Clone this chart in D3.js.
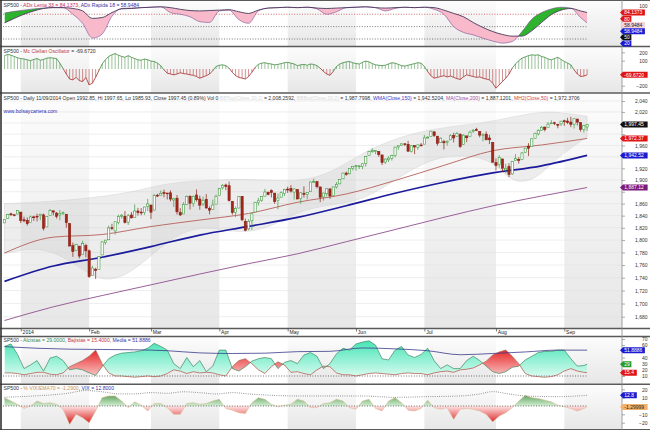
<!DOCTYPE html>
<html><head><meta charset="utf-8">
<script src="https://cdn.jsdelivr.net/npm/d3@7"></script>
<style>body{margin:0;background:#fff;} svg{display:block;font-family:"Liberation Sans",Arial,sans-serif;}</style>
</head><body><svg id="c" width="650" height="430"></svg>
<script>
// ---------------- DATA ----------------
const monthStarts = [5,26,45,66,87,108,129,151,172];
const monthLabels = ["2014","Feb","Mar","Apr","May","Jun","Jul","Aug","Sep"];
const priceTicks = [1680,1700,1720,1740,1760,1780,1800,1820,1840,1860,1880,1900,1920,1940,1960,1980,2000,2020,2040];

const open = [
1828.00,1834.96,1842.97,1841.47,1842.61,1845.86,1833.21,1832.31,1828.71,1837.90,
1839.00,1840.06,1841.26,1821.36,1840.52,1847.99,1844.23,1841.05,1844.71,1842.29,
1826.96,1791.03,1783.00,1790.15,1777.17,1790.88,1782.68,1743.82,1753.38,1752.99,
1776.01,1796.20,1800.45,1820.12,1814.82,1828.46,1839.03,1838.90,1829.24,1841.07,
1836.78,1847.66,1845.79,1844.90,1855.12,1857.68,1849.23,1874.05,1874.18,1878.52,
1877.86,1878.26,1866.15,1869.06,1845.07,1842.81,1858.92,1872.25,1860.09,1874.53,
1867.67,1859.48,1867.09,1852.11,1850.07,1859.16,1873.96,1886.61,1891.43,1890.25,
1863.92,1845.48,1852.64,1872.28,1830.65,1818.18,1831.45,1846.01,1861.73,1865.79,
1872.57,1879.32,1881.97,1877.72,1865.00,1870.78,1877.10,1884.39,1885.30,1879.45,
1883.69,1868.53,1877.39,1875.27,1880.03,1896.75,1897.13,1888.16,1871.19,1876.66,
1884.88,1873.34,1888.19,1893.32,1902.01,1911.77,1910.60,1920.33,1923.87,1923.07,
1923.06,1928.52,1942.41,1948.97,1950.34,1949.37,1943.35,1930.80,1934.84,1937.15,
1942.73,1957.50,1960.45,1962.92,1961.97,1949.27,1959.89,1956.56,1960.79,1962.29,
1973.06,1975.88,1984.22,1976.39,1965.10,1966.67,1965.76,1969.86,1977.36,1976.35,
1979.75,1961.54,1976.93,1975.65,1985.32,1988.07,1984.60,1978.25,1980.03,1973.21,
1965.14,1929.80,1926.62,1936.34,1917.29,1923.03,1910.35,1933.43,1935.73,1935.60,
1947.41,1958.87,1958.36,1972.73,1980.46,1986.82,1992.60,1991.74,1998.59,2000.54,
1997.42,1998.45,2004.07,2003.57,2001.67,1998.00,2007.17,2000.73,1988.41,1992.85];
const high = [
1833.32,1842.84,1844.89,1842.47,1849.44,1845.86,1838.24,1837.16,1840.10,1840.02,
1843.23,1843.15,1843.45,1839.26,1850.84,1847.99,1846.04,1849.31,1846.87,1842.29,
1826.96,1795.98,1793.87,1790.15,1798.77,1793.88,1784.83,1758.73,1755.79,1774.06,
1798.03,1800.22,1823.54,1826.55,1830.25,1841.65,1842.87,1847.50,1842.79,1846.13,
1858.71,1852.91,1852.65,1854.53,1867.92,1857.68,1876.23,1876.53,1881.94,1883.57,
1877.87,1882.35,1868.38,1874.40,1852.44,1862.30,1873.76,1874.14,1873.49,1883.97,
1873.34,1871.87,1875.92,1855.55,1866.63,1875.18,1885.84,1893.17,1893.80,1897.28,
1864.04,1854.95,1872.43,1872.53,1835.07,1834.19,1844.02,1862.31,1869.63,1871.89,
1884.89,1879.75,1884.06,1877.72,1877.01,1880.60,1885.20,1888.59,1891.33,1885.51,
1883.69,1878.83,1889.07,1878.57,1897.13,1902.17,1897.13,1888.16,1878.28,1886.00,
1884.88,1888.80,1896.33,1901.26,1912.28,1914.46,1920.03,1924.03,1925.88,1925.07,
1928.63,1941.74,1949.44,1955.55,1950.86,1949.37,1943.35,1937.30,1941.15,1943.69,
1957.74,1959.87,1963.91,1963.74,1968.17,1960.83,1959.89,1961.47,1964.24,1978.58,
1976.67,1985.59,1984.22,1976.39,1974.15,1969.84,1968.67,1979.85,1982.52,1983.94,
1981.80,1979.91,1976.93,1986.24,1989.23,1991.39,1984.60,1981.52,1984.85,1978.90,
1965.14,1937.35,1942.92,1936.34,1927.91,1928.89,1932.38,1944.90,1939.65,1948.41,
1955.23,1964.04,1971.99,1982.57,1988.57,1994.76,1993.54,2001.95,2005.04,2002.14,
1998.55,2003.38,2006.12,2009.28,2011.17,2007.71,2007.17,2001.01,1996.66,1997.65];
const low = [
1828.00,1834.96,1839.81,1838.77,1842.41,1827.74,1829.13,1823.73,1828.71,1831.40,
1830.38,1832.43,1815.52,1821.36,1840.52,1840.30,1835.23,1832.38,1840.88,1820.06,
1790.29,1772.88,1783.00,1770.45,1777.17,1772.26,1739.66,1743.82,1737.92,1752.99,
1776.01,1792.64,1800.41,1815.97,1809.22,1825.59,1835.01,1826.99,1824.58,1835.60,
1836.78,1840.19,1840.66,1841.13,1847.67,1834.44,1849.23,1871.11,1874.18,1870.56,
1867.04,1863.88,1854.38,1841.86,1839.57,1842.81,1858.92,1850.35,1854.63,1863.46,
1849.69,1855.96,1852.56,1842.11,1850.07,1859.16,1873.96,1883.79,1882.65,1863.26,
1841.48,1837.49,1852.38,1830.87,1814.36,1815.80,1816.29,1846.01,1856.72,1863.18,
1872.57,1873.91,1870.24,1859.70,1850.61,1870.78,1872.69,1878.04,1878.50,1866.77,
1867.72,1859.79,1870.05,1867.02,1880.03,1896.06,1885.77,1862.36,1864.82,1872.42,
1868.14,1873.34,1885.39,1893.32,1902.01,1907.30,1909.82,1916.64,1915.98,1918.79,
1918.60,1922.93,1942.41,1947.16,1944.64,1940.08,1925.78,1927.69,1930.91,1933.55,
1939.29,1952.26,1959.17,1958.89,1948.34,1947.49,1944.69,1952.18,1958.22,1962.29,
1972.58,1975.88,1974.88,1959.46,1965.10,1952.86,1959.63,1969.86,1965.34,1975.67,
1955.59,1960.82,1965.77,1975.65,1982.44,1985.79,1974.37,1967.31,1969.95,1962.42,
1930.67,1916.37,1921.20,1913.77,1911.45,1904.78,1909.01,1933.43,1928.29,1935.60,
1947.41,1941.50,1958.36,1972.73,1977.68,1986.82,1984.76,1991.74,1998.59,1996.20,
1990.52,1994.65,1994.85,1998.14,1992.54,1990.10,1995.60,1984.61,1982.99,1985.93];
const close = [
1833.32,1842.02,1841.40,1841.07,1848.36,1831.98,1831.37,1826.77,1837.88,1837.49,
1838.13,1842.37,1819.20,1838.88,1848.38,1845.89,1838.70,1843.80,1844.86,1828.46,
1790.29,1781.56,1792.50,1774.20,1794.19,1782.59,1741.89,1755.20,1751.64,1773.43,
1797.02,1799.84,1819.75,1819.26,1829.83,1838.63,1840.76,1828.75,1839.78,1836.25,
1847.61,1845.12,1845.16,1854.29,1859.45,1845.73,1873.91,1873.81,1877.03,1878.04,
1877.17,1867.63,1868.20,1846.34,1841.13,1858.83,1872.25,1860.77,1872.01,1866.52,
1857.44,1865.62,1852.56,1849.04,1857.62,1872.34,1885.52,1890.90,1888.77,1865.09,
1845.04,1851.96,1872.18,1833.08,1815.69,1830.61,1842.98,1862.31,1864.85,1871.89,
1879.55,1875.39,1878.61,1863.40,1869.43,1878.33,1883.95,1883.68,1881.14,1884.66,
1867.72,1878.21,1875.63,1878.48,1896.65,1897.45,1888.53,1870.85,1877.86,1885.08,
1872.83,1888.03,1892.49,1900.53,1911.91,1909.78,1920.03,1923.57,1924.97,1924.24,
1927.88,1940.46,1949.44,1951.27,1950.79,1943.89,1930.11,1936.16,1937.78,1941.99,
1956.98,1959.48,1962.87,1962.61,1949.98,1959.53,1957.22,1960.96,1960.23,1973.32,
1974.62,1985.44,1977.65,1963.71,1972.83,1964.68,1967.57,1977.10,1973.28,1981.57,
1958.12,1978.22,1973.63,1983.53,1987.01,1987.98,1978.34,1978.91,1969.95,1970.07,
1930.67,1925.15,1938.99,1920.21,1920.24,1909.57,1931.59,1936.92,1933.75,1946.72,
1955.18,1955.06,1971.74,1981.60,1986.51,1992.37,1988.40,1997.92,2000.02,2000.12,
1996.74,2003.37,2002.28,2000.72,1997.65,2007.71,2001.54,1988.44,1995.69,1997.45];

// moving averages (sampled days)
const smoothIdx = [0,15,30,45,60,75,90,105,120,135,150,165,179];
const ma50   = [1779.1,1804.7,1809.0,1822.0,1832.7,1843.6,1862.2,1876.2,1899.1,1925.1,1950.7,1960.8,1972.37];
const wma150 = [1734.3,1758.4,1772.4,1789.5,1808.1,1822.2,1837.0,1856.5,1877.5,1896.2,1912.1,1924.4,1942.52];
const ma200  = [1674.2,1695.0,1712.3,1728.9,1745.8,1762.2,1777.8,1797.3,1817.1,1837.2,1856.3,1872.8,1887.12];

// grey envelope
const envIdx   = [0,10,20,30,40,50,60,70,80,90,100,110,120,130,140,150,155,160,165,170,179];
const envUpper = [1860,1862,1866,1872,1880,1895,1898,1902,1900,1897,1910,1948,1972,1988,1995,2003,2010,2015,2020,2020,2012];
const envLower = [1778,1790,1770,1728,1750,1800,1825,1812,1815,1848,1858,1865,1900,1935,1945,1935,1900,1895,1910,1940,1975];

// ADX panel
const adxIdx = [0,3,6,9,12,15,18,21,24,27,30,33,36,39,42,45,48,51,54,57,60,63,66,69,72,75,78,81,84,87,90,93,96,99,102,105,108,111,114,117,120,123,126,129,132,135,138,141,144,147,150,153,156,159,162,165,168,171,174,177,179];
const adxLenta  = [59,70,80,88,94,96,96,94,88,70,72,84,93,94,96,97,98,96,92,89,88,89,90,91,86,82,90,95,96,97,96,97,95,94,95,96,97,98,96,95,96,97,96,97,96,90,82,74,60,48,38,31,27,27,40,60,79,90,94,88,84.1373];
const adxRapida = [83,87,90,93,95,96.5,96,80,58,22,32,75,94,95,96,97,98,84,80,74,62,60,88,90,67,58,88,95,96,97,96,97,93,80,86,96,97,98,96,88,94,97,96,97,92,80,50,36,30,22,15,10,14,38,68,84,93,97,95,72,58.9484];

// McClellan oscillator (daily)
const mcclellan = [
160,175,165,150,135,125,120,110,100,115,
125,105,115,130,135,130,125,70,5,-60,
-120,-130,-100,-140,-150,-100,-190,-170,-100,-20,
60,110,150,170,185,165,150,140,160,140,
125,110,105,120,110,95,90,70,40,-10,
-50,-60,-70,-60,-45,-55,-60,-70,-75,-90,
-110,-95,-80,-60,-20,30,45,50,40,10,
-40,-80,-100,-110,-120,-90,-40,20,55,70,
75,65,60,50,55,65,75,80,70,60,
40,50,55,45,60,55,40,10,-30,-60,
-75,-30,30,60,75,85,90,75,65,60,
80,95,85,65,50,45,40,45,60,75,
70,55,40,35,45,55,65,75,70,30,
-30,-80,-110,-100,-90,-80,-95,-85,-100,-115,
-125,-95,-70,-80,-90,-100,-95,-110,-120,-130,
-170,-230,-190,-150,-110,-60,10,60,100,130,
145,160,170,165,170,150,140,120,110,125,
140,115,90,70,50,-10,-60,-90,-85,-69.672];

// breadth panel + VIX panel (every 2 days)
const breadthIdx = [0,2,4,6,8,10,12,14,16,18,20,22,24,26,28,30,32,34,36,38,40,42,44,46,48,50,52,54,56,58,60,62,64,66,68,70,72,74,76,78,80,82,84,86,88,90,92,94,96,98,100,102,104,106,108,110,112,114,116,118,120,122,124,126,128,130,132,134,136,138,140,142,144,146,148,150,152,154,156,158,160,162,164,166,168,170,172,174,176,178,179];
const alcistas = [58,62,45,22,28,35,18,39,42,35, 20,22,20,15,11,25,38,44,47,48, 49,51,55,63,58,52,30,22,40,25, 35,17,26,52,52,22,18,25,34,38, 40,38,22,32,35,30,44,48,42,22, 30,46,55,52,62,65,67,60,38,36, 52,58,44,40,45,55,35,22,28,22, 22,35,42,35,26,17,14,17,24,26, 36,42,48,50,50,52,52,38,26,27, 29];
const bajistas = [15,15,14,12,14,16,16,13,12,15, 25,30,35,42,52,30,15,10,10,9, 8,9,10,9,10,14,20,18,14,17, 15,16,15,12,10,25,35,38,30,20, 14,25,33,28,16,17,14,12,20,26, 25,15,12,12,10,12,14,15,14,13, 12,14,15,14,14,12,15,17,18,16, 20,21,23,28,34,44,49,52,42,30, 14,10,9,8,9,12,18,22,18,16, 15.4];
const pctVix = [10,6,2,-3,0,6,3,4,2,-4, -22,-10,-14,-20,-6,10,12,12,6,-2, 5,1,-6,3,3,-2,-10,-10,3,4, 2,3,6,8,-3,-5,-8,-9,4,10, 8,2,-1,1,2,8,6,-2,-2,3, 4,8,6,-2,-4,6,8,-3,-6,6, 10,4,-5,-6,-3,7,-2,-4,-2,-16, -4,-3,-4,-6,-10,-19,-12,-8,-2,6, 12.5,10,9,7,5,1,-1,-3,-6,-3, -1.29999];
const mediaIdx = [0,10,20,30,40,50,60,70,80,90,100,110,120,130,140,150,160,170,179];
const media = [57.6,55,53.5,53,52.5,51,47.5,46.5,47,49.5,50,55.5,54,51,44.5,46.5,49,52,51.8886];
const vixIdx = [0,9,19,25,30,35,40,45,50,55,60,65,70,75,80,90,100,110,120,130,140,146,150,155,160,170,179];
const vix = [10.5,12,15,18.5,17,14.5,14.5,16,15.2,17,16,14.4,16,14.4,13.2,12,12,12,10.4,11.2,12,14.4,17.2,14.4,12,11.2,12.8];

// last-value labels on the right axis
const mainLast = [[1997.45,"1,997.45","#111"],[1972.37,"1,972.37","#e01414"],[1942.52,"1,942.52","#1a1ad0"],[1887.12,"1,887.12","#7a1a7a"]];

// ---------------- DRAW ----------------
const svg = d3.select("#c");
const defs = svg.append("defs");
const PX0 = 3, PX1 = 622, FS = 5.1;
const P = {adx:[1,46], mcc:[47,92.5], main:[94,328], alc:[337,383.5], vix:[385,429]};
const x = d3.scaleLinear().domain([0,179]).range([4.5,587.1]);
const yP = d3.scaleLog().domain([1680,2040]).range([316.7,101]);
const yA = d3.scaleLinear().domain([20,100]).range([39,6]);
const yM = d3.scaleLinear().domain([-200,200]).range([85.7,52.3]);
const yB = d3.scaleLinear().domain([10,70]).range([376,339]);
const yV = d3.scaleLinear().domain([-20,20]).range([422.7,389.3]);
const xEnd = x(179);

function grad(id, y1, y2, stops, bbox) {
  const g = defs.append("linearGradient").attr("id", id).attr("x1",0).attr("x2",0).attr("y1",y1).attr("y2",y2);
  if (!bbox) g.attr("gradientUnits","userSpaceOnUse");
  stops.forEach(s => g.append("stop").attr("offset", s[0]).attr("stop-color", s[1]));
}
grad("band",0,1,[[0,"#fcfcfc"],[1,"#e7e7e7"]],true);
grad("mint",339,383,[[0,"#3fe3b2"],[1,"#f2fffa"]]);
grad("redB",346,383,[[0,"#e41010"],[1,"#ffeeee"]]);
grad("greenV",389,406,[[0,"#1c7a1c"],[1,"#d5efd5"]]);
grad("redV",406,426,[[0,"#ffe4e4"],[1,"#d40000"]]);

// month bands
Object.values(P).forEach(([t,b]) => {
  monthStarts.forEach((s,k) => {
    if (k % 2) return;
    const x0 = x(s), x1 = k+1 < monthStarts.length ? x(monthStarts[k+1]) : PX1;
    svg.append("rect").attr("x",x0).attr("y",t).attr("width",x1-x0).attr("height",b-t).attr("fill","url(#band)");
  });
});

// ---- main panel ----
priceTicks.forEach(v => svg.append("line").attr("x1",PX0).attr("x2",PX1).attr("y1",yP(v)).attr("y2",yP(v))
  .attr("stroke","#e3e3e3").attr("stroke-width",0.6));

const envArea = d3.area().x((d,k)=>x(envIdx[k])).y0((d,k)=>yP(envLower[k])).y1(d=>yP(d)).curve(d3.curveBasis);
svg.append("path").datum(envUpper).attr("d",envArea).attr("fill","#c4c4c4").attr("fill-opacity",0.3)
  .attr("stroke","#d2d2d2").attr("stroke-width",0.5);

const maLine = d3.line().x((d,k)=>x(smoothIdx[k])).y(d=>yP(d)).curve(d3.curveMonotoneX);
svg.append("path").datum(ma200).attr("d",maLine).attr("fill","none").attr("stroke","#8e4f8e").attr("stroke-width",0.9);
svg.append("path").datum(ma50).attr("d",maLine).attr("fill","none").attr("stroke","#b5605a").attr("stroke-width",0.9);
svg.append("path").datum(wma150).attr("d",maLine).attr("fill","none").attr("stroke","#1b1b9c").attr("stroke-width",1.7);

const cg = svg.append("g");
close.forEach((c,i) => {
  const o = open[i], up = c >= o;
  const col = up ? "#3e9a3e" : "#8a1f14";
  cg.append("line").attr("x1",x(i)).attr("x2",x(i)).attr("y1",yP(high[i])).attr("y2",yP(low[i]))
    .attr("stroke",col).attr("stroke-width",0.7);
  const yt = yP(Math.max(o,c)), yb = yP(Math.min(o,c));
  cg.append("rect").attr("x",x(i)-1.1).attr("y",yt).attr("width",2.2).attr("height",Math.max(0.8,yb-yt))
    .attr("fill",up ? "#ffffff" : "#a3261a").attr("stroke",col).attr("stroke-width",0.6);
});

// ---- ADX panel ----
const adxData = adxIdx.map((i,k)=>({i, l:adxLenta[k], r:adxRapida[k]}));
const cur = d3.curveMonotoneX;
defs.append("clipPath").attr("id","adxAbove").append("path")
  .attr("d", d3.area().x(d=>x(d.i)).y0(P.adx[0]).y1(d=>yA(d.l)).curve(cur)(adxData));
defs.append("clipPath").attr("id","adxBelow").append("path")
  .attr("d", d3.area().x(d=>x(d.i)).y0(P.adx[1]).y1(d=>yA(d.l)).curve(cur)(adxData));
const adxBetween = d3.area().x(d=>x(d.i)).y0(d=>yA(d.l)).y1(d=>yA(d.r)).curve(cur);
[[80,"#c83030"],[50,"#444"],[20,"#444"]].forEach(([v,c]) => svg.append("line").attr("x1",PX0).attr("x2",xEnd)
  .attr("y1",yA(v)).attr("y2",yA(v)).attr("stroke",c).attr("stroke-width",0.7).attr("stroke-dasharray","1,1.6"));
svg.append("path").datum(adxData).attr("d",adxBetween).attr("fill","#2db32d").attr("clip-path","url(#adxAbove)");
svg.append("path").datum(adxData).attr("d",adxBetween).attr("fill","#f8b9cb").attr("clip-path","url(#adxBelow)");
svg.append("path").datum(adxData).attr("d", d3.line().x(d=>x(d.i)).y(d=>yA(d.r)).curve(cur))
  .attr("fill","none").attr("stroke","#7a4f90").attr("stroke-width",0.6);
svg.append("path").datum(adxData).attr("d", d3.line().x(d=>x(d.i)).y(d=>yA(d.l)).curve(cur))
  .attr("fill","none").attr("stroke","#3c2450").attr("stroke-width",0.8);

// ---- McClellan ----
const mg = svg.append("g");
mcclellan.forEach((v,i) => {
  mg.append("line").attr("x1",x(i)).attr("x2",x(i)).attr("y1",yM(0)).attr("y2",yM(v))
    .attr("stroke", v >= 0 ? "#469146" : "#b23434").attr("stroke-width",0.55);
  if (i > 0) {
    const p = mcclellan[i-1];
    mg.append("line").attr("x1",x(i-1)).attr("x2",x(i)).attr("y1",yM(p)).attr("y2",yM(v))
      .attr("stroke", (p+v) >= 0 ? "#3f8a3f" : "#a82c2c").attr("stroke-width",0.8);
  }
});

// ---- Breadth panel ----
const bData = breadthIdx.map((i,k)=>({i, a:alcistas[k], b:bajistas[k], p:pctVix[k]}));
defs.append("clipPath").attr("id","bAbove").append("path")
  .attr("d", d3.area().x(d=>x(d.i)).y0(P.alc[0]).y1(d=>yB(d.b))(bData));
defs.append("clipPath").attr("id","bBelow").append("path")
  .attr("d", d3.area().x(d=>x(d.i)).y0(P.alc[1]).y1(d=>yB(d.b))(bData));
const bBetween = d3.area().x(d=>x(d.i)).y0(d=>yB(d.b)).y1(d=>yB(d.a));
svg.append("path").datum(bData).attr("d",bBetween).attr("fill","url(#mint)").attr("clip-path","url(#bAbove)");
svg.append("path").datum(bData).attr("d",bBetween).attr("fill","url(#redB)").attr("clip-path","url(#bBelow)");
svg.append("line").attr("x1",PX0).attr("x2",xEnd).attr("y1",yB(10)).attr("y2",yB(10))
  .attr("stroke","#333").attr("stroke-width",0.7).attr("stroke-dasharray","1,1.6");
svg.append("path").datum(bData).attr("d", d3.line().x(d=>x(d.i)).y(d=>yB(d.b)))
  .attr("fill","none").attr("stroke","#a8564a").attr("stroke-width",0.7);
svg.append("path").datum(bData).attr("d", d3.line().x(d=>x(d.i)).y(d=>yB(d.a)))
  .attr("fill","none").attr("stroke","#3f8a62").attr("stroke-width",0.7);
svg.append("path").datum(media).attr("d", d3.line().x((d,k)=>x(mediaIdx[k])).y(d=>yB(d)).curve(d3.curveMonotoneX))
  .attr("fill","none").attr("stroke","#3a3a8a").attr("stroke-width",0.8);

// ---- VIX panel ----
defs.append("clipPath").attr("id","vAbove").append("rect").attr("x",0).attr("width",650).attr("y",P.vix[0]).attr("height",yV(0)-P.vix[0]);
defs.append("clipPath").attr("id","vBelow").append("rect").attr("x",0).attr("width",650).attr("y",yV(0)).attr("height",P.vix[1]-yV(0));
const vArea = d3.area().x(d=>x(d.i)).y0(yV(0)).y1(d=>yV(d.p));
svg.append("path").datum(bData).attr("d",vArea).attr("fill","url(#greenV)").attr("clip-path","url(#vAbove)");
svg.append("path").datum(bData).attr("d",vArea).attr("fill","url(#redV)").attr("clip-path","url(#vBelow)");
svg.append("path").datum(bData).attr("d", d3.line().x(d=>x(d.i)).y(d=>yV(d.p)))
  .attr("fill","none").attr("stroke","#d9b58c").attr("stroke-width",0.5);
svg.append("line").attr("x1",PX0).attr("x2",xEnd).attr("y1",yV(0)).attr("y2",yV(0))
  .attr("stroke","#333").attr("stroke-width",0.7).attr("stroke-dasharray","1,1.6");
svg.append("path").datum(vix).attr("d", d3.line().x((d,k)=>x(vixIdx[k])).y(d=>yV(d)).curve(d3.curveMonotoneX))
  .attr("fill","none").attr("stroke","#444").attr("stroke-width",0.7).attr("stroke-dasharray","0.8,1.4");

// ---- frame / separators ----
[0.5,46.5,93,328.5,336.5,384.2,429.5].forEach(y => svg.append("line").attr("x1",0).attr("x2",650).attr("y1",y).attr("y2",y)
  .attr("stroke","#5a5a5a").attr("stroke-width", y===0.5||y===429.5 ? 1 : 1.4));
svg.append("line").attr("x1",1).attr("x2",1).attr("y1",0).attr("y2",430).attr("stroke","#333").attr("stroke-width",1.6);
svg.append("line").attr("x1",PX1).attr("x2",PX1).attr("y1",0).attr("y2",430).attr("stroke","#8a8a8a").attr("stroke-width",0.8);

// ---- x axis ----
const gx = svg.append("g").attr("transform","translate(0,328.5)")
  .call(d3.axisBottom(x).tickValues(monthStarts).tickFormat((d,k)=>monthLabels[k]).tickSize(3).tickPadding(0));
gx.select(".domain").remove();
gx.selectAll("line").attr("stroke","#444").attr("stroke-width",0.7);
gx.selectAll("text").attr("text-anchor","start").attr("x",1.3).attr("y",5.3).attr("dy",0)
  .attr("font-size",FS).attr("fill","#222").attr("font-family","Liberation Sans, Arial, sans-serif");

// ---- right axes ----
function rightAxis(scale, ticks, fmt, hideNear) {
  const g = svg.append("g").attr("transform",`translate(${PX1},0)`)
    .call(d3.axisRight(scale).tickValues(ticks).tickFormat(fmt).tickSize(3));
  g.select(".domain").remove();
  g.selectAll("line").attr("stroke","#777").attr("stroke-width",0.6);
  g.selectAll("text").attr("x",25.5).attr("text-anchor","end").attr("dy","0.35em")
    .attr("font-size",5).attr("fill","#333").attr("font-family","Liberation Sans, Arial, sans-serif");
  if (hideNear) g.selectAll("text").filter(d => hideNear.some(v => Math.abs(scale(d) - scale(v)) < 4.8)).remove();
}
rightAxis(yP, priceTicks, d3.format(","), mainLast.map(d => d[0]));
rightAxis(yM, [200,100,-200], d3.format("d"));
rightAxis(yB, [70,60,40,30,20,10], d3.format("d"));
rightAxis(yV, [20,10,-10,-20], d3.format("d"));

function box(y, txt, fill, tcol) {
  const w = txt.length * 2.7 + 3;
  svg.append("path").attr("d",`M620,${y} L623,${y-3} L${623+w},${y-3} L${623+w},${y+3} L623,${y+3} Z`).attr("fill",fill);
  svg.append("text").attr("x",624.3).attr("y",y+1.8).attr("font-size",5).attr("fill",tcol || "#fff").text(txt);
}
// ADX stacked labels
const adxLabels = [[100,"100",null],[84.1373,"84.1373","#e01414"],[80,"80","#e01414"],[58.9484,"58.9484","#f6d2dc"],[58.9484,"58.9484","#1a1ad0"],[50,"50","#111"],[20,"20","#1a1ad0"]];
let prevY = -10;
adxLabels.forEach(([v,t,f]) => {
  const y = Math.max(yA(v), prevY + 6.2); prevY = y;
  if (!f) svg.append("text").attr("x",647.5).attr("y",y+1.8).attr("text-anchor","end").attr("font-size",5).attr("fill","#333").text(t);
  else box(y, t, f, f === "#f6d2dc" ? "#222" : "#fff");
});
box(yM(-69.672), "-69.6720", "#e01414");
mainLast.forEach(([v,t,f]) => box(yP(v), t, f));
box(yB(51.8886), "51.8886", "#1a1ad0");
box(yB(29), "29", "#2a9a2a");
box(yB(15.4), "15.4", "#e01414");
box(yV(12.8), "12.8", "#1a1ad0");
box(yV(-1.29999), "-1.29999", "#f2b26a", "#222");

// ---- titles ----
function title(y, parts) {
  const t = svg.append("text").attr("x",3.5).attr("y",y).attr("font-size",FS);
  parts.forEach(([s,c]) => t.append("tspan").attr("fill",c).text(s));
}
title(6.8, [["SP500 - ","#333"],["ADx Lenta 33 = 84.1373","#d0305a"],[", ","#333"],["ADx Rapida 18 = 58.9484","#3434a8"]]);
title(53.4, [["SP500 - ","#333"],["Mc Clellan Oscillator","#c03838"],[" = -69.6720","#333"]]);
title(99.8, [["SP500 - Daily 11/09/2014 Open 1992.85, Hi 1997.65, Lo 1985.93, Close 1997.45 (0.89%) Vol 0 ","#333"],
  ["BBTop(Close,20,2)","#d9d9d9"],[" = 2,008.2592, ","#333"],["BBBot(Close,20,2)","#d9d9d9"],[" = 1,987.7998, ","#333"],
  ["WMA(Close,150)","#3a3ac8"],[" = 1,942.5204, ","#333"],["MA(Close,200)","#a050a0"],[" = 1,887.1201, ","#333"],
  ["MH2(Close,50)","#d04848"],[" = 1,972.3706","#333"]]);
svg.append("text").attr("x",3.5).attr("y",112.8).attr("font-size",FS).attr("fill","#2a2ab0").text("www.bolsaycartera.com");
title(341.8, [["SP500 - ","#333"],["Alcistas = 29.0000","#2f8a5a"],[", ","#333"],["Bajistas = 15.4000","#c03838"],[", ","#333"],["Media = 51.8886","#3434a8"]]);
title(389.6, [["SP500 - ","#333"],["% VIX/EMA70 = -1.2900","#c8965a"],[", ","#333"],["VIX = 12.8000","#3434a8"]]);
</script></body></html>
